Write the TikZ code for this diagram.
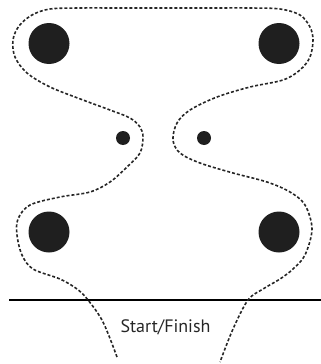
\documentclass[tikz,border=0pt]{standalone}
\usepackage{fontspec}
\setmainfont{PT Sans}
\begin{document}
\begin{tikzpicture}[x=1pt,y=-1pt,
  bigdot/.style={circle,fill=black!88,minimum size=41pt,inner sep=0pt},
  smalldot/.style={circle,fill=black!88,minimum size=14pt,inner sep=0pt},
  route/.style={line width=1.6pt,dash pattern=on 3pt off 2pt,black!85},
  lbl/.style={font=\fontsize{18}{21}\selectfont,text=black!85}]
\useasboundingbox (0,0) rectangle (321,364);
\node[bigdot] (tl) at (49,43.5) {};
\node[bigdot] (tr) at (279,43.5) {};
\node[bigdot] (bl) at (49,232) {};
\node[bigdot] (br) at (279,232) {};
\node[smalldot] (sl) at (123,138) {};
\node[smalldot] (sr) at (204,138) {};
\coordinate (lineL) at (9,300);
\coordinate (lineR) at (321,300);
\draw[line width=2.5pt] (lineL) -- (lineR);
\node[lbl] (start) at (165.5,327) {Start/Finish};
\draw[route] plot[smooth,tension=0.55] coordinates {
 (117,357) (103,322) (88,300) (77,289) (60,279) (33,269) (22,255) (17,235) (18,219) (30,205) (60,197) (90,192) (110,182)
 (127,167) (140,153) (143,137) (140,127) (130,118) (110,110) (83,100) (50,87) (27,73) (15,57) (13,40) (19,26) (32,15) (50,9)
 (80,8) (120,8) (165,8) (210,8) (250,8) (280,9) (300,15) (310,27) (313,40) (310,57) (300,70) (283,80) (250,87) (217,97) (190,110) (177,123) (173,140) (180,153) (200,163) (233,173) (267,182)
 (290,192) (305,205) (312,229) (305,255) (293,269) (280,279) (263,289) (248,300) (233,329) (220,362)};
\end{tikzpicture}
\end{document}
